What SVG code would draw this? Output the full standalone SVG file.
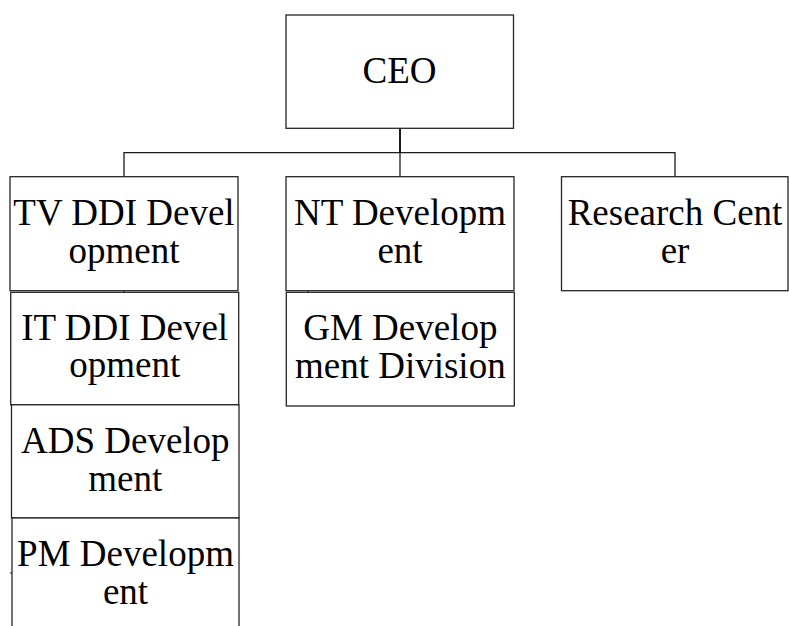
<svg xmlns="http://www.w3.org/2000/svg" width="789" height="626" viewBox="0 0 789 626">
<style>
.box{fill:#fff;stroke:#262626;stroke-width:1.3}
.lbl{font-family:"Liberation Serif","Times New Roman",serif;font-size:37px;fill:#000;text-anchor:middle}
.con{fill:none;stroke:#1a1a1a;stroke-width:1.3}
</style>
<rect width="789" height="626" fill="#fff"/>
<g id="connectors">
<line class="con" x1="400" y1="128" x2="400" y2="152.7" style="stroke-width:2"/>
<polyline class="con" points="124,177 124,152.7 675,152.7 675,177"/>
<line class="con" x1="400" y1="152.7" x2="400" y2="177"/>
<line class="con" x1="124" y1="290.5" x2="124" y2="292.5"/>
<line class="con" x1="308" y1="290.5" x2="308" y2="292.5"/>
<line class="con" x1="10" y1="573" x2="12" y2="573" style="stroke-width:1"/>
</g>
<g id="ceo">
<rect class="box" x="286" y="15" width="227.5" height="113.3"/>
<text class="lbl" x="399.5" y="82.7">CEO</text>
</g>
<g id="tv-ddi">
<rect class="box" x="10" y="176.7" width="228" height="114"/>
<text class="lbl" x="124"><tspan x="124" y="225">TV DDI Devel</tspan><tspan x="124" y="262.7">opment</tspan></text>
</g>
<g id="nt">
<rect class="box" x="286" y="176.7" width="228" height="114"/>
<text class="lbl"><tspan x="400" y="225">NT Developm</tspan><tspan x="400" y="262.7">ent</tspan></text>
</g>
<g id="research">
<rect class="box" x="561.5" y="176.7" width="226.5" height="114"/>
<text class="lbl"><tspan x="675" y="225">Research Cent</tspan><tspan x="675" y="262.7">er</tspan></text>
</g>
<g id="it-ddi">
<rect class="box" x="10.7" y="292.3" width="228" height="112.5"/>
<text class="lbl"><tspan x="124.7" y="339.5">IT DDI Devel</tspan><tspan x="124.7" y="377.2">opment</tspan></text>
</g>
<g id="gm">
<rect class="box" x="286.3" y="292.3" width="228" height="113.7"/>
<text class="lbl"><tspan x="400.3" y="340">GM Develop</tspan><tspan x="400.3" y="377.7">ment Division</tspan></text>
</g>
<g id="ads">
<rect class="box" x="11.5" y="404.8" width="227.5" height="113.2"/>
<text class="lbl"><tspan x="125.3" y="452.8">ADS Develop</tspan><tspan x="125.3" y="490.5">ment</tspan></text>
</g>
<g id="pm">
<rect class="box" x="12" y="518" width="227" height="114"/>
<text class="lbl"><tspan x="125.5" y="566.3">PM Developm</tspan><tspan x="125.5" y="604">ent</tspan></text>
</g>
</svg>
